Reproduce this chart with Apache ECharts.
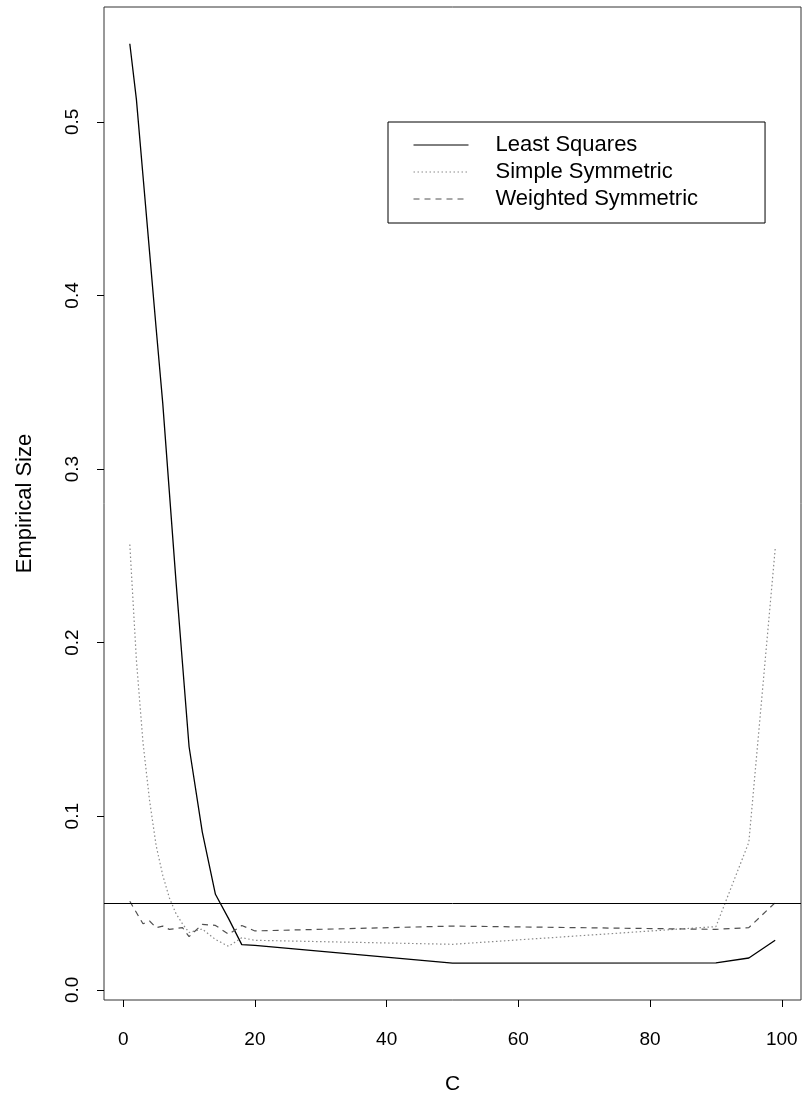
<!DOCTYPE html>
<html>
<head>
<meta charset="utf-8">
<script src="https://cdn.jsdelivr.net/npm/echarts@6/dist/echarts.min.js"></script>
<style>
  html, body { margin: 0; padding: 0; background: #fff; }
  #chart { width: 806px; height: 1100px; }
</style>
</head>
<body>
<div id="chart"></div>
<script>
// Threshold values C and empirical size of each test
const cValues = [1, 2, 3, 4, 5, 6, 7, 8, 9, 10, 12, 14, 16, 18, 20, 50, 90, 95, 99];
const leastSquares = [0.545, 0.513, 0.469, 0.425, 0.381, 0.338, 0.287, 0.236, 0.188, 0.140,
  0.091, 0.055, 0.041, 0.026, 0.0256, 0.0153, 0.0155, 0.0183, 0.0285];
const simpleSymmetric = [0.2565, 0.190, 0.1425, 0.109, 0.083, 0.066, 0.053, 0.044, 0.038, 0.033,
  0.035, 0.029, 0.025, 0.030, 0.0285, 0.0262, 0.0364, 0.085, 0.254];
const weightedSymmetric = [0.051, 0.0445, 0.038, 0.0396, 0.0358, 0.0367, 0.0348, 0.0353, 0.0358, 0.0306,
  0.0377, 0.0371, 0.032, 0.037, 0.0339, 0.0367, 0.0348, 0.0358, 0.0502];
const nominalLevel = 0.05;
const xTicks = [0, 20, 40, 60, 80, 100];
const yTicks = [0, 0.1, 0.2, 0.3, 0.4, 0.5];
const seriesNames = ['Least Squares', 'Simple Symmetric', 'Weighted Symmetric'];

const FONT = 'Liberation Sans, Arial, Helvetica, sans-serif';
const pairs = ys => cValues.map((c, i) => [c, ys[i]]);

// R-style 4% padding around the data range
const xMinData = Math.min(...cValues), xMaxData = Math.max(...cValues);
const xPad = (xMaxData - xMinData) * 0.04;
const allY = leastSquares.concat(simpleSymmetric, weightedSymmetric);
const yMinData = Math.min(...allY), yMaxData = Math.max(...allY);
const yPad = (yMaxData - yMinData) * 0.04;

const chart = echarts.init(document.getElementById('chart'), null, { renderer: 'canvas' });

const lineSeries = (name, ys, color, type, width) => ({
  name, type: 'line', data: pairs(ys), symbol: 'none', smooth: false,
  lineStyle: { color, type, width }, itemStyle: { color },
  emphasis: { disabled: true }, z: 3
});

const ls = lineSeries(seriesNames[0], leastSquares, '#000', 'solid', 1.3);
ls.markLine = {
  silent: true, symbol: ['none', 'none'], label: { show: false },
  lineStyle: { color: '#000', type: 'solid', width: 1 },
  data: [{ yAxis: nominalLevel }]
};

chart.setOption({
  animation: false,
  backgroundColor: '#fff',
  grid: {
    left: 104, right: 5, top: 7, bottom: 99,
    show: true, borderColor: '#333', borderWidth: 1,
    containLabel: false
  },
  xAxis: {
    type: 'value',
    min: xMinData - xPad, max: xMaxData + xPad,
    name: 'C', nameLocation: 'middle', nameGap: 74,
    nameTextStyle: { fontFamily: FONT, fontSize: 21, color: '#000' },
    axisLine: { show: false, onZero: false },
    splitLine: { show: false },
    axisTick: { show: true, inside: false, length: 7, customValues: xTicks,
      lineStyle: { color: '#000', width: 1 } },
    axisLabel: { show: true, customValues: xTicks, margin: 30,
      fontFamily: FONT, fontSize: 19, color: '#000',
      formatter: v => String(Math.round(v)) }
  },
  yAxis: {
    type: 'value',
    min: yMinData - yPad, max: yMaxData + yPad,
    name: 'Empirical Size', nameLocation: 'middle', nameGap: 68,
    nameTextStyle: { fontFamily: FONT, fontSize: 22, color: '#000' },
    axisLine: { show: false, onZero: false },
    splitLine: { show: false },
    axisTick: { show: true, inside: false, length: 7, customValues: yTicks,
      lineStyle: { color: '#000', width: 1 } },
    axisLabel: { show: true, customValues: yTicks, margin: 22, rotate: 90,
      fontFamily: FONT, fontSize: 19, color: '#000',
      formatter: v => v.toFixed(1) }
  },
  legend: {
    orient: 'vertical',
    left: 388, top: 122,
    padding: [11, 67, 12, 25],
    itemWidth: 55, itemHeight: 14, itemGap: 3,
    borderColor: '#000', borderWidth: 1,
    backgroundColor: '#fff',
    selectedMode: false,
    itemStyle: { opacity: 0, borderWidth: 0 },
    lineStyle: { width: 1 },
    textStyle: { fontFamily: FONT, fontSize: 22, color: '#000', lineHeight: 24,
      padding: [0, 0, 0, 22] },
    data: seriesNames
  },
  series: [
    ls,
    lineSeries(seriesNames[1], simpleSymmetric, '#8a8a8a', [1.5, 2.5], 1.2),
    lineSeries(seriesNames[2], weightedSymmetric, '#505050', [6, 5], 1.2)
  ]
});
</script>
</body>
</html>
